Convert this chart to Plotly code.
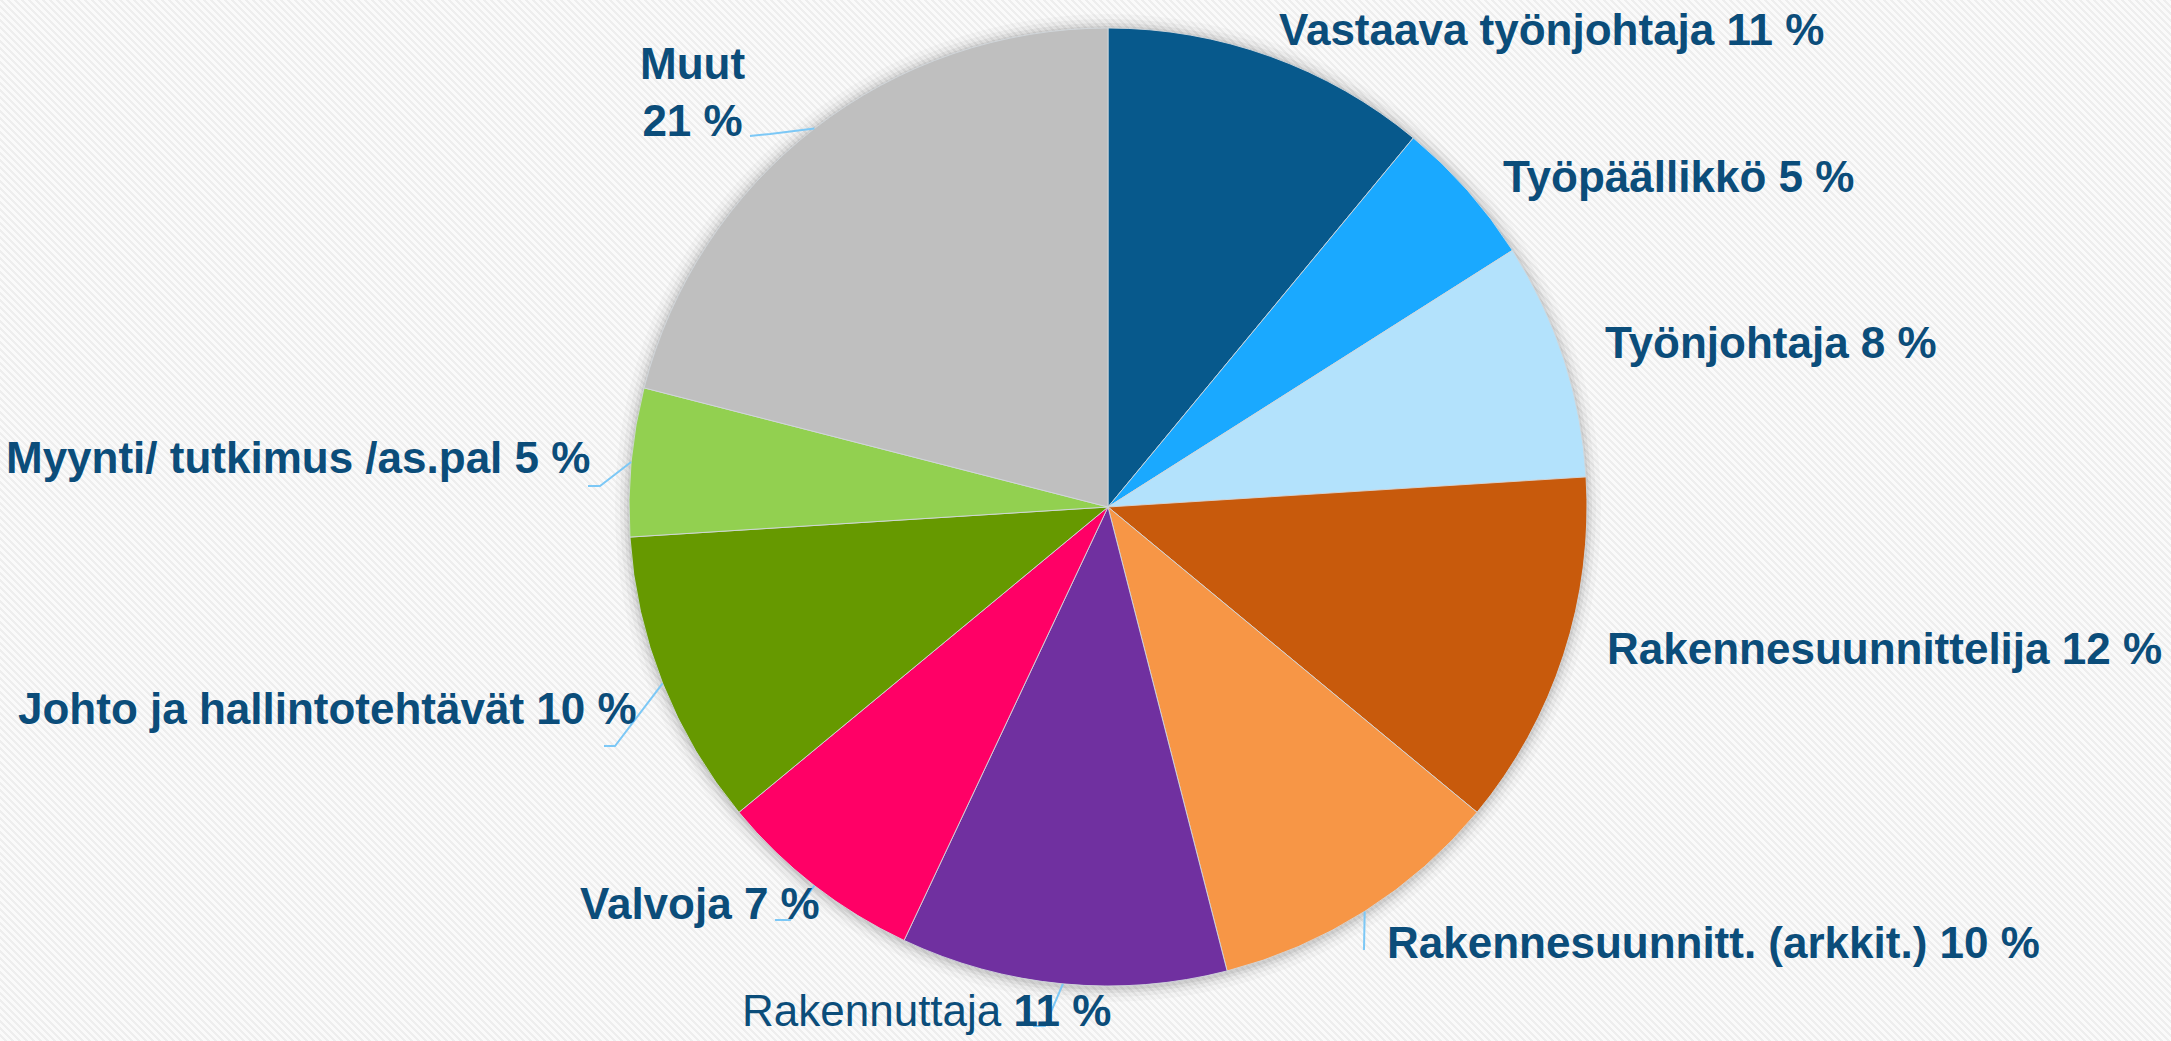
import math
import base64
import struct
import zlib
import numpy as np
import plotly.graph_objects as go

# ---------------- data ----------------
categories = [
    "Vastaava työnjohtaja", "Työpäällikkö", "Työnjohtaja", "Rakennesuunnittelija",
    "Rakennesuunnitt. (arkkit.)", "Rakennuttaja", "Valvoja",
    "Johto ja hallintotehtävät", "Myynti/ tutkimus /as.pal", "Muut",
]
values = [11, 5, 8, 12, 10, 11, 7, 10, 5, 21]
colors = ["#07598C", "#1AA9FF", "#B3E2FC", "#C85A0C", "#F79646",
          "#7030A0", "#FF0066", "#669900", "#92D050", "#BFBFBF"]

# ---------------- layout constants ----------------
W, H = 2171, 1041
CX, CY, R = 1108, 507, 479          # pie centre / radius in px
TEXT_COLOR = "#0B4D7A"
LEADER_COLOR = "#7CC8F6"
FONT = "Liberation Sans, Arial, sans-serif"

# label centre positions (px)
label_pos = [(1551, 30), (1678, 177), (1771, 343), (1884, 648), (1713, 942),
             (926, 1010), (700, 903), (327, 708), (298, 457), (692, 92)]
# leader line: (elbow, end) in px, None if no leader
leaders = [None, None, None, None,
           ((1364, 950), (1364, 950)),
           ((1045, 1026), (1033, 1026)),
           ((790, 920), (775, 920)),
           ((615, 746), (604, 746)),
           ((600, 486), (588, 486)),
           ((770, 134), (750, 136))]


def px(x, y):
    return x / W, 1 - y / H


def stripe_png(w, h, period=7, band=3, light=250, dark=238):
    """Diagonal striped background texture as PNG data URI."""
    yy, xx = np.mgrid[0:h, 0:w]
    img = np.where(((xx - yy) % period) < band, dark, light).astype(np.uint8)
    rgb = np.repeat(img[:, :, None], 3, axis=2)
    raw = b"".join(b"\x00" + rgb[r].tobytes() for r in range(h))

    def chunk(tag, data):
        c = struct.pack(">I", len(data)) + tag + data
        return c + struct.pack(">I", zlib.crc32(tag + data) & 0xFFFFFFFF)

    png = b"\x89PNG\r\n\x1a\n"
    png += chunk(b"IHDR", struct.pack(">IIBBBBB", w, h, 8, 2, 0, 0, 0))
    png += chunk(b"IDAT", zlib.compress(raw, 9))
    png += chunk(b"IEND", b"")
    return "data:image/png;base64," + base64.b64encode(png).decode()


fig = go.Figure()
fig.add_trace(go.Pie(
    labels=categories, values=values, sort=False, direction="clockwise",
    rotation=0, textinfo="none", hoverinfo="label+percent",
    marker=dict(colors=colors, line=dict(color="rgba(210,215,220,0.9)", width=1)),
    domain=dict(x=[(CX - R) / W, (CX + R) / W], y=[1 - (CY + R) / H, 1 - (CY - R) / H]),
    showlegend=False,
))

shapes = []
# soft shadow behind the pie
for k, a in [(14, 0.025), (9, 0.035), (5, 0.05), (2, 0.06)]:
    x0, y0 = px(CX - R - k, CY - R - k)
    x1, y1 = px(CX + R + k, CY + R + k + 2)
    shapes.append(dict(type="circle", xref="paper", yref="paper", layer="below",
                       x0=x0, y0=y1, x1=x1, y1=y0,
                       fillcolor=f"rgba(0,0,0,{a})", line=dict(width=0)))

annotations = []
total = sum(values)
cum = 0
for i, (cat, v) in enumerate(zip(categories, values)):
    mid = (cum + v / 2) / total * 2 * math.pi
    cum += v
    pct = round(v / total * 100)
    if cat == "Muut":
        txt = f"<b>{cat}<br>{pct} %</b>"
    elif cat == "Rakennuttaja":
        txt = f"{cat} <b>{pct} %</b>"
    else:
        txt = f"<b>{cat} {pct} %</b>"
    lx, ly = px(*label_pos[i])
    annotations.append(dict(x=lx, y=ly, xref="paper", yref="paper", text=txt,
                            showarrow=False, xanchor="center", yanchor="middle",
                            align="center",
                            font=dict(family=FONT, size=44, color=TEXT_COLOR)))
    if leaders[i] is not None:
        sx, sy = CX + R * math.sin(mid), CY - R * math.cos(mid)
        (ex, ey), (fx, fy) = leaders[i]
        pts = [px(sx, sy), px(ex, ey), px(fx, fy)]
        path = "M " + " L ".join(f"{a:.5f},{b:.5f}" for a, b in pts)
        shapes.append(dict(type="path", xref="paper", yref="paper", path=path,
                           line=dict(color=LEADER_COLOR, width=2), layer="above"))

fig.update_layout(
    width=W, height=H, margin=dict(l=0, r=0, t=0, b=0),
    paper_bgcolor="#F4F4F4", plot_bgcolor="#F4F4F4",
    shapes=shapes, annotations=annotations,
    images=[dict(source=stripe_png(W, H), xref="paper", yref="paper",
                 x=0, y=1, sizex=1, sizey=1, xanchor="left", yanchor="top",
                 sizing="stretch", layer="below")],
)
fig.write_html("out.html", config={"displayModeBar": False},
               post_script="document.body.style.margin='0px';document.body.style.background='#F4F4F4';")
